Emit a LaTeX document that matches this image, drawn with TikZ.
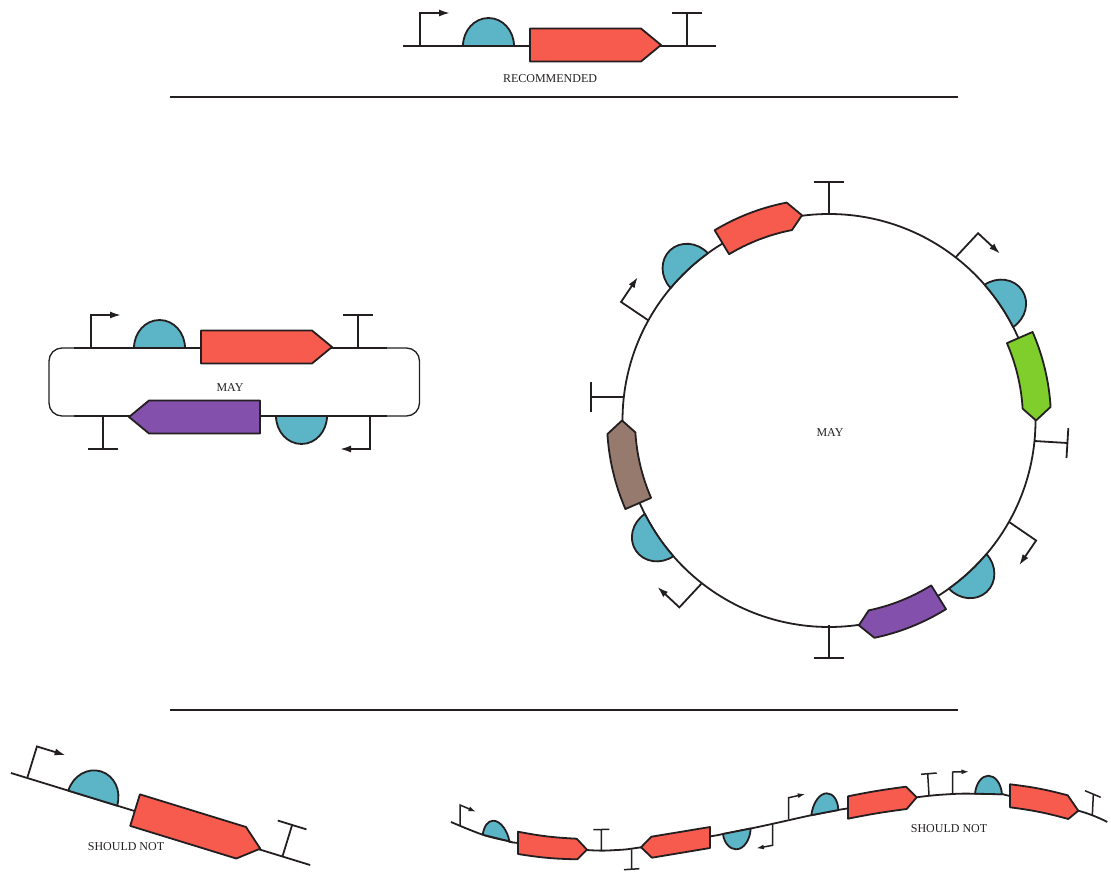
\documentclass[tikz,border=0pt]{standalone}
\usepackage{fontspec}
\setmainfont{Liberation Serif}
\usetikzlibrary{arrows.meta}
\definecolor{ink}{HTML}{231F20}
\definecolor{cdsred}{HTML}{F65B4E}
\definecolor{cdsgreen}{HTML}{7FCE2B}
\definecolor{cdspurple}{HTML}{8350AB}
\definecolor{cdsbrown}{HTML}{967A6D}
\definecolor{rbsblue}{HTML}{5BB5C7}

\begin{document}
\begin{tikzpicture}[
		x=1pt, y=-1pt,
		wire/.style={draw=ink, line width=1.8pt},
		cds/.style={wire, line join=round},
		rbspart/.style={wire, fill=rbsblue, line join=round},
		bigarrow/.style={wire, -{Latex[length=11pt,width=7pt]}},
		smallarrow/.style={wire, line width=1.5pt, -{Latex[length=7.5pt,width=5pt]}},
		thinwire/.style={wire, line width=1.5pt},
		caption/.style={text=ink, font=\fontsize{12}{14}\selectfont, inner sep=0pt},
		pics/promoter/.style={code={
			\draw[bigarrow] (0,0) -- (0,-33) -- (30,-33);
		}},
		pics/terminator/.style={code={
			\draw[wire] (0,0) -- (0,-33);
			\draw[wire] (-15,-33) -- (15,-33);
		}},
		pics/rbs/.style={code={
			\draw[rbspart] (-25.5,0) .. controls (-25.5,-15.5) and (-14.1,-28) .. (0,-28)
				.. controls (14.1,-28) and (25.5,-15.5) .. (25.5,0)
				.. controls (8.5,#1) and (-8.5,#1) .. (-25.5,0) -- cycle;
		}},
		pics/construct/.style 2 args={code={
			\draw[wire] (0,0) -- (313,0);
			\pic[transform shape] at (17,0) {promoter};
			\pic[transform shape] at (85.5,0) {rbs=0};
			\draw[cds, fill=#1] (127+#2,-17.5) -- (238+#2,-17.5) -- (258+#2,-1) -- (238+#2,15.5) -- (127+#2,15.5) -- cycle;
			\pic[transform shape] at (284,0) {terminator};
		}},
	]
		\useasboundingbox (0,0) rectangle (1111,877);

		\pic at (403,46) {construct={cdsred}{0}};
		\node (recommended) [caption] at (550,79) {RECOMMENDED};
		\draw[wire] (170,97) -- (958,97);

		\draw[wire, line width=1.3pt, rounded corners=13pt] (49,348) rectangle (419.5,416);
		\pic at (74,348) {construct={cdsred}{0}};
		\pic[rotate=180] at (387,416) {construct={cdspurple}{0}};
		\node (maylinear) [caption] at (230,388) {MAY};

		\coordinate (centre) at (829,420.5);
		\draw[wire] (centre) circle[radius=206.5];
		\node (maycircular) [caption] at (830,433) {MAY};
		\begin{scope}[shift={(centre)}]
			\foreach \tip/\prom/\turn/\site/\col in {-97.5/-151/56/-133/cdsred, 0/-52.2/-43/-34/cdsgreen, 81.7/29.4/-124.4/47.4/cdspurple, 180/128/137/146/cdsbrown} {
				\pic[rotate=\turn] at (\prom:206.5) {promoter};
				\pic[rotate={-(\site+90)}] at (\site:204.9) {rbs=-2.1};
				\draw[cds, fill=\col] (\tip-23.5:222) arc[start angle=\tip-23.5, delta angle=20, radius=222]
					-- (\tip:207) -- (\tip-3.5:194) arc[start angle=\tip-3.5, delta angle=-20, radius=194] -- cycle;
			}
			\foreach \stop/\rad/\turn in {-173.5/206.5/90, -90/205.5/0, 5.7/206.5/-93.5, 90/204.5/180} {
				\pic[rotate=\turn] at (\stop:\rad) {terminator};
			}
		\end{scope}

		\draw[wire] (170,710) -- (958,710);

		\pic[rotate=-17.1] at (11,773) {construct={cdsred}{2.5}};
		\node (shouldnotline) [caption] at (126,847) {SHOULD NOT};

		\draw[wire] plot[smooth, tension=.6] coordinates {(451,822) (482.7,834.7) (509.3,841.3) (518,843) (587,850) (617,850) (641,847.3) (710.7,836.3) (723,834) (750.7,828.5) (772.7,823.8) (811.3,815.2) (838.3,810) (848.3,808.3) (916.7,797.3) (952.7,794) (975,793.7) (1002,794.3) (1010,796) (1078.3,810.7) (1107.3,822)};
		\draw[smallarrow] (460,825.7) -- (460,805) -- (476,811.8);
		\draw[rbspart] (482.7,834.7) .. controls (484,826) and (488,820.7) .. (493.3,820.7) .. controls (501,820.7) and (508,832) .. (509.3,841.3) -- cycle;
		\draw[cds, fill=cdsred] (518,831.7) to[bend right=4] (576.7,838.7) -- (587,849.7) -- (577.3,859.3) to[bend left=4] (518,854) -- cycle;
		\draw[thinwire] (601.3,850) -- (601.3,829.7) (593.3,829.7) -- (609.3,829.3);
		\draw[thinwire] (631.7,849.3) -- (631.7,869.2) (624,869.7) -- (639.3,868.7);
		\draw[cds, fill=cdsred] (641,847.3) -- (651.3,836.7) -- (710,827) -- (710,848) -- (652,857.7) -- cycle;
		\draw[rbspart] (723,834) .. controls (724,843) and (730,849.3) .. (736,849.3) .. controls (744,849.3) and (750,840) .. (750.7,828.5) -- cycle;
		\draw[smallarrow] (772.7,823.8) -- (772.7,845.3) -- (756.3,848.3);
		\draw[smallarrow] (788.7,819) -- (788.7,797.7) -- (805.3,794);
		\draw[rbspart] (811.3,815.2) .. controls (813,802) and (820,793.3) .. (826.7,793.3) .. controls (833,793.3) and (838,800) .. (838.3,810) -- cycle;
		\draw[cds, fill=cdsred] (848,796.3) to[bend left=2] (906,786.7) -- (916.7,797.3) -- (906.7,809) to[bend right=2] (848,818.7) -- cycle;
		\draw[thinwire] (929,795.3) -- (927.7,774) (921,774.3) -- (936.7,773);
		\draw[smallarrow] (952.7,794) -- (952.7,772) -- (969,771.7);
		\draw[rbspart] (975,793.7) .. controls (976,783) and (982,775.7) .. (988.3,775.7) .. controls (995,775.7) and (1001,783) .. (1002,794.3) -- cycle;
		\draw[cds, fill=cdsred] (1010,784.3) to[bend left=4] (1067.7,795.3) -- (1078.3,810.7) -- (1068.3,819) to[bend right=4] (1010,807.3) -- cycle;
		\draw[thinwire] (1092.3,815.7) -- (1093.3,795) (1085,790.7) -- (1100.7,797.3);
		\node (shouldnotwave) [caption] at (949,829) {SHOULD NOT};
\end{tikzpicture}
\end{document}
